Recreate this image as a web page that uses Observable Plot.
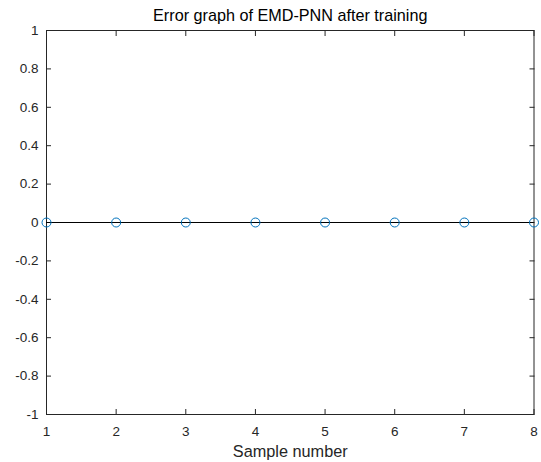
<!DOCTYPE html>
<html>
<head>
<meta charset="utf-8">
<script src="https://cdn.jsdelivr.net/npm/d3@7"></script>
<script src="https://cdn.jsdelivr.net/npm/@observablehq/plot@0.6"></script>
<style>
  html, body { margin: 0; padding: 0; background: #fff; }
  #chart { width: 541px; height: 462px; }
  #chart g[aria-label$="tick label"] { font-size: 13.5px; }
</style>
</head>
<body>
<div id="chart"></div>
<script>
// Prediction error for each test sample after training
const samples = [1, 2, 3, 4, 5, 6, 7, 8];
const errors = [0, 0, 0, 0, 0, 0, 0, 0];

// Axis ticks
const xTicks = [1, 2, 3, 4, 5, 6, 7, 8];
const yTicks = [-1, -0.8, -0.6, -0.4, -0.2, 0, 0.2, 0.4, 0.6, 0.8, 1];

const titleText = "Error graph of EMD-PNN after training";
const xLabelText = "Sample number";

const data = samples.map((s, i) => ({sample: s, error: errors[i]}));
const axisColor = "#262626";
const stemColor = "#0072BD";
const tickFont = 13.5;
const blank = () => "";

const chart = Plot.plot({
  width: 541,
  height: 462,
  marginLeft: 46,
  marginRight: 7.5,
  marginTop: 30,
  marginBottom: 48,
  style: {
    fontFamily: "Arial, 'Liberation Sans', Helvetica, sans-serif",
    fontSize: "13.5px",
    color: axisColor,
    background: "white",
    overflow: "visible"
  },
  x: {domain: [1, 8]},
  y: {domain: [-1, 1]},
  marks: [
    Plot.frame({stroke: axisColor}),
    Plot.axisX(xTicks, {anchor: "bottom", tickSize: -5, tickPadding: 17, fontSize: tickFont, tickFormat: d => String(d), label: null, stroke: axisColor}),
    Plot.axisX(xTicks, {anchor: "top", tickSize: -5, tickFormat: blank, label: null, stroke: axisColor}),
    Plot.axisY(yTicks, {anchor: "left", tickSize: -5, tickPadding: 13, fontSize: tickFont, tickFormat: d => String(d), label: null, stroke: axisColor}),
    Plot.axisY(yTicks, {anchor: "right", tickSize: -5, tickFormat: blank, label: null, stroke: axisColor}),
    // stem baseline
    Plot.ruleY([0], {stroke: "black"}),
    // stems
    Plot.link(data, {x1: "sample", x2: "sample", y1: 0, y2: "error", stroke: stemColor}),
    // stem heads
    Plot.dot(data, {x: "sample", y: "error", r: 4.5, stroke: stemColor, strokeWidth: 1, fill: "none"}),
    // title and x label
    Plot.text([titleText], {frameAnchor: "top", dy: -10, lineAnchor: "bottom", fontSize: 16.2, fill: "black", text: d => d}),
    Plot.text([xLabelText], {frameAnchor: "bottom", dy: 42.5, lineAnchor: "bottom", fontSize: 16.3, fill: axisColor, text: d => d})
  ]
});
document.getElementById("chart").appendChild(chart);
</script>
</body>
</html>
